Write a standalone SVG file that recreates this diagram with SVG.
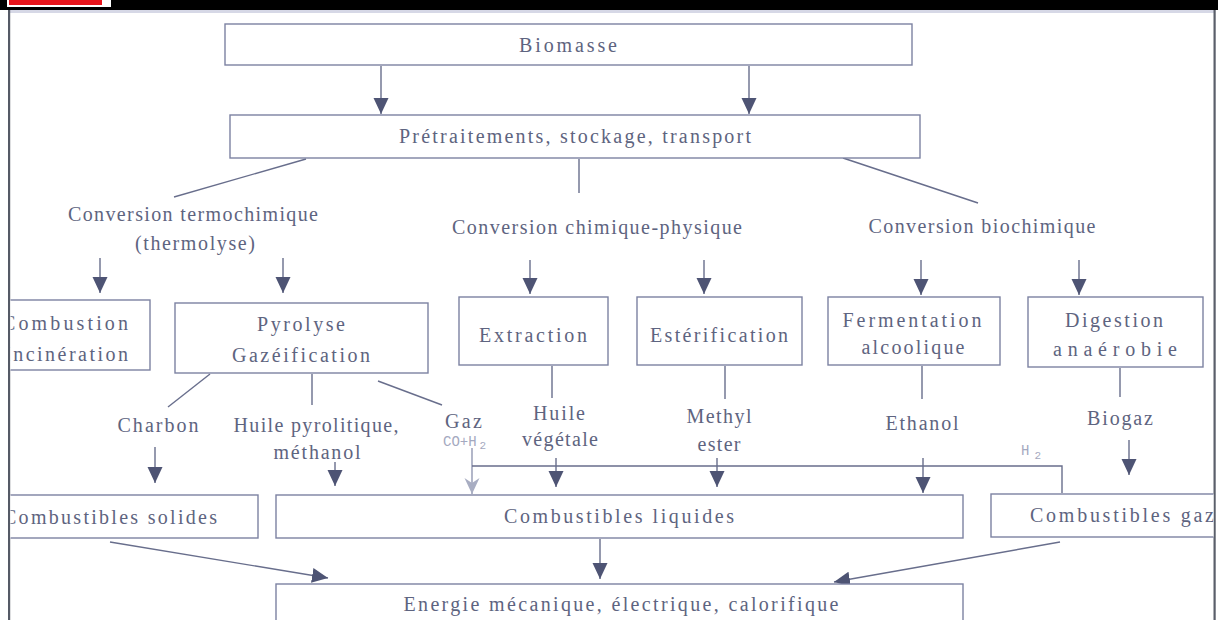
<svg xmlns="http://www.w3.org/2000/svg" width="1218" height="620" viewBox="0 0 1218 620">
<style>
.box{fill:#fff;stroke:#7c82a2;stroke-width:1.4}
.t{font-family:"Liberation Serif","Times New Roman",serif;font-size:20px;fill:#5e6480}
.m{text-anchor:middle}
.mono{font-family:"Liberation Mono","DejaVu Sans Mono",monospace;font-size:14px;fill:#a4a9c0}
.ln{fill:none;stroke:#686e8c;stroke-width:1.4}
.ar{fill:none;stroke:#686e8c;stroke-width:1.4;marker-end:url(#ah)}
</style>
<defs>
<marker id="ah" markerUnits="userSpaceOnUse" markerWidth="18" markerHeight="18" viewBox="0 0 18 18" refX="16" refY="9" orient="auto">
<path d="M0,1.5 L16,9 L0,16.5 Z" fill="#4e5474"/>
</marker>
<marker id="ahl" markerUnits="userSpaceOnUse" markerWidth="18" markerHeight="18" viewBox="0 0 18 18" refX="16" refY="9" orient="auto">
<path d="M0,1.5 L16,9 L0,16.5 L5,9 Z" fill="#a8adc2"/>
</marker>
<clipPath id="clip"><rect x="10.5" y="10" width="1203" height="610"/></clipPath>
</defs>
<rect x="0" y="0" width="1218" height="620" fill="#fff"/>
<rect x="0" y="0" width="1218" height="10" fill="#000"/>
<rect x="10" y="10" width="1204" height="3" fill="#d6d8e6"/>
<rect x="7" y="0" width="104" height="7" fill="#fff"/>
<rect x="9" y="0" width="93" height="5" fill="#e8141c"/>
<rect x="8" y="10" width="2.2" height="610" fill="#555a66"/>
<rect x="1213.5" y="10" width="2.2" height="610" fill="#5a5f6a"/>

<g clip-path="url(#clip)">
<g id="connectors">
<line class="ar" x1="381" y1="66" x2="381" y2="114"/>
<line class="ar" x1="749" y1="66" x2="749" y2="114"/>
<line class="ln" x1="306" y1="159" x2="174" y2="197"/>
<line class="ln" x1="579" y1="159" x2="579" y2="193"/>
<line class="ln" x1="843" y1="158" x2="978" y2="203"/>
<line class="ar" x1="100" y1="258" x2="100" y2="293"/>
<line class="ar" x1="283" y1="258" x2="283" y2="293"/>
<line class="ar" x1="530" y1="260" x2="530" y2="294"/>
<line class="ar" x1="704" y1="260" x2="704" y2="294"/>
<line class="ar" x1="921" y1="260" x2="921" y2="295"/>
<line class="ar" x1="1079" y1="260" x2="1079" y2="295"/>
<line class="ln" x1="210" y1="374" x2="168" y2="407"/>
<line class="ln" x1="312" y1="374" x2="312" y2="405"/>
<line class="ln" x1="378" y1="381" x2="442" y2="405"/>
<line class="ln" x1="552" y1="366" x2="552" y2="398"/>
<line class="ln" x1="725" y1="366" x2="725" y2="399"/>
<line class="ln" x1="922" y1="366" x2="922" y2="399"/>
<line class="ln" x1="1120" y1="368" x2="1120" y2="397"/>
<line class="ar" x1="155" y1="447" x2="155" y2="483"/>
<line class="ar" x1="335" y1="462" x2="335" y2="486"/>
<line x1="472" y1="448" x2="472" y2="494" stroke="#9298b2" stroke-width="1.4" marker-end="url(#ahl)"/>
<polyline class="ln" points="472,466 1062,466 1062,493"/>
<line class="ar" x1="556" y1="458" x2="556" y2="487"/>
<line class="ar" x1="717" y1="458" x2="717" y2="487"/>
<line class="ar" x1="923" y1="458" x2="923" y2="493"/>
<line class="ar" x1="1129" y1="440" x2="1129" y2="475"/>
<line class="ar" x1="110" y1="542" x2="328" y2="578"/>
<line class="ar" x1="600" y1="539" x2="600" y2="579"/>
<line class="ar" x1="1060" y1="542" x2="834" y2="582"/>
</g>

<g id="biomasse"><rect class="box" x="225" y="24" width="687" height="41"/>
<text class="t m" x="568" y="52" textLength="98" lengthAdjust="spacing">Biomasse</text></g>
<g id="pretraitements"><rect class="box" x="230" y="115" width="690" height="43"/>
<text class="t m" x="575" y="143" textLength="352" lengthAdjust="spacing">Prétraitements, stockage, transport</text></g>

<g id="conv-thermo"><text class="t m" x="193" y="221" textLength="250" lengthAdjust="spacing">Conversion termochimique</text>
<text class="t m" x="195" y="250" textLength="120" lengthAdjust="spacing">(thermolyse)</text></g>
<g id="conv-chim"><text class="t m" x="597" y="234" textLength="290" lengthAdjust="spacing">Conversion chimique-physique</text></g>
<g id="conv-bio"><text class="t m" x="982" y="233" textLength="227" lengthAdjust="spacing">Conversion biochimique</text></g>

<g id="combustion"><rect class="box" x="-5" y="300" width="155" height="70"/>
<text class="t" x="2" y="330" textLength="126" lengthAdjust="spacing">Combustion</text>
<text class="t" x="4" y="361" textLength="124" lengthAdjust="spacing">Incinération</text></g>
<g id="pyrolyse"><rect class="box" x="175" y="303" width="253" height="70"/>
<text class="t m" x="301" y="331" textLength="88" lengthAdjust="spacing">Pyrolyse</text>
<text class="t m" x="301" y="362" textLength="138" lengthAdjust="spacing">Gazéification</text></g>
<g id="extraction"><rect class="box" x="459" y="297" width="149" height="68"/>
<text class="t m" x="533" y="342" textLength="108" lengthAdjust="spacing">Extraction</text></g>
<g id="esterification"><rect class="box" x="637" y="297" width="165" height="68"/>
<text class="t m" x="719" y="342" textLength="138" lengthAdjust="spacing">Estérification</text></g>
<g id="fermentation"><rect class="box" x="828" y="297" width="172" height="68"/>
<text class="t m" x="912" y="327" textLength="139" lengthAdjust="spacing">Fermentation</text>
<text class="t m" x="913" y="354" textLength="103" lengthAdjust="spacing">alcoolique</text></g>
<g id="digestion"><rect class="box" x="1028" y="297" width="175" height="70"/>
<text class="t m" x="1114" y="327" textLength="98" lengthAdjust="spacing">Digestion</text>
<text class="t m" x="1115" y="356" textLength="124" lengthAdjust="spacing">anaérobie</text></g>

<g id="charbon"><text class="t m" x="158" y="432" textLength="81" lengthAdjust="spacing">Charbon</text></g>
<g id="huile-pyro"><text class="t m" x="316" y="432" textLength="165" lengthAdjust="spacing">Huile pyrolitique,</text>
<text class="t m" x="317" y="459" textLength="87" lengthAdjust="spacing">méthanol</text></g>
<g id="gaz"><text class="t" x="445" y="428" textLength="37" lengthAdjust="spacing">Gaz</text>
<text class="mono" x="443" y="446">CO+H<tspan dx="3" dy="3" font-size="11">2</tspan></text></g>
<g id="huile-veg"><text class="t m" x="559" y="420" textLength="52" lengthAdjust="spacing">Huile</text>
<text class="t m" x="560" y="446" textLength="76" lengthAdjust="spacing">végétale</text></g>
<g id="methyl"><text class="t m" x="719" y="423" textLength="65" lengthAdjust="spacing">Methyl</text>
<text class="t m" x="719" y="451" textLength="43" lengthAdjust="spacing">ester</text></g>
<g id="ethanol"><text class="t m" x="922" y="430" textLength="73" lengthAdjust="spacing">Ethanol</text></g>
<g id="biogaz"><text class="t m" x="1120" y="425" textLength="66" lengthAdjust="spacing">Biogaz</text></g>
<g id="h2"><text class="mono" x="1021" y="455">H<tspan dx="5" dy="4" font-size="11">2</tspan></text></g>

<g id="comb-solides"><rect class="box" x="-5" y="495" width="263" height="43"/>
<text class="t" x="3" y="524" textLength="214" lengthAdjust="spacing">Combustibles solides</text></g>
<g id="comb-liquides"><rect class="box" x="276" y="495" width="687" height="43"/>
<text class="t m" x="619" y="523" textLength="230" lengthAdjust="spacing">Combustibles liquides</text></g>
<g id="comb-gaz"><rect class="box" x="991" y="494" width="240" height="43"/>
<text class="t" x="1030" y="522" textLength="184" lengthAdjust="spacing">Combustibles gaz</text></g>
<g id="energie"><rect class="box" x="276" y="584" width="687" height="50"/>
<text class="t m" x="621" y="611" textLength="435" lengthAdjust="spacing">Energie mécanique, électrique, calorifique</text></g>
</g>
</svg>
